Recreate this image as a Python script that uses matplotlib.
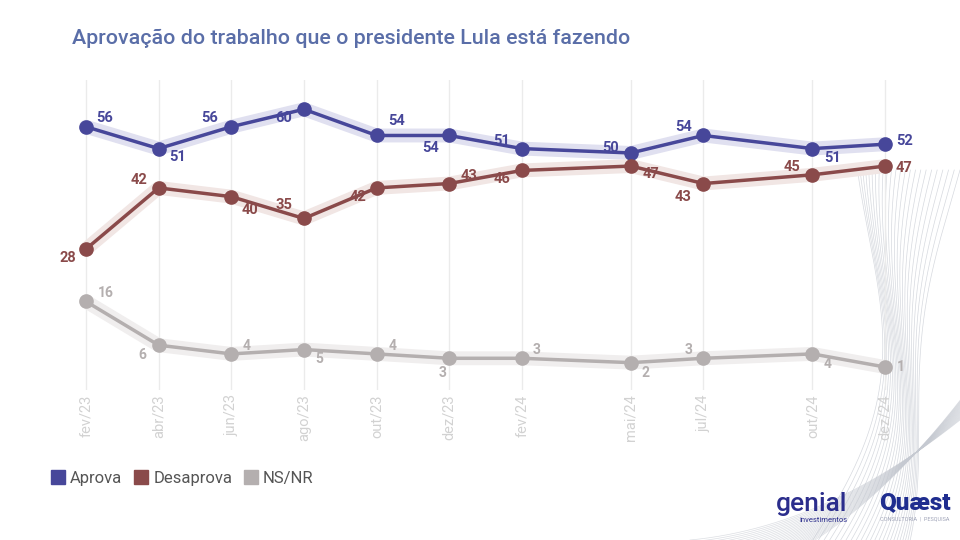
import numpy as np
import matplotlib
matplotlib.use("Agg")
import matplotlib.pyplot as plt
from matplotlib.patches import Patch

plt.rcParams['font.family'] = ['Roboto', 'DejaVu Sans']

# survey dates (month index from fev/23) and labels
months = [0, 2, 4, 6, 8, 10, 12, 15, 17, 20, 22]
labels = ['fev/23', 'abr/23', 'jun/23', 'ago/23', 'out/23', 'dez/23',
          'fev/24', 'mai/24', 'jul/24', 'out/24', 'dez/24']

aprova = [56, 51, 56, 60, 54, 54, 51, 50, 54, 51, 52]
desaprova = [28, 42, 40, 35, 42, 43, 46, 47, 43, 45, 47]
nsnr = [16, 6, 4, 5, 4, 3, 3, 2, 3, 4, 1]

# label offsets in pixels (dx, dy) for each point
off_aprova = [(19, 9), (19, -8), (-22, 9), (-20, -9), (20, 14), (-19, -13),
              (-20, 8), (-20, 5), (-20, 8), (20, -9), (19, 3)]
off_desaprova = [(-18, -9), (-20, 8), (19, -13), (-20, 13), (-19, -9), (20, 8),
                 (-20, -9), (20, -8), (-20, -13), (-20, 8), (19, -2)]
off_nsnr = [(20, 8), (-16, -10), (15, 8), (15, -9), (16, 8), (-7, -15),
            (15, 8), (15, -10), (-15, 8), (15, -10), (16, 0)]

c_aprova = '#47479a'
c_desaprova = '#8a4a4a'
c_nsnr = '#b4afaf'

fig = plt.figure(figsize=(9.6, 5.4), dpi=100)
fig.patch.set_facecolor('white')

# decorative waves bottom right
deco = fig.add_axes([0, 0, 1, 1], zorder=0)
deco.set_xlim(0, 960)
deco.set_ylim(540, 0)
deco.axis('off')
tt = np.linspace(0, 1, 200)
for k in range(24):
    sx = 960 - 25 * np.sin(tt * np.pi * 1.3 + k * 0.09) - k * 3.5 - 70 * tt ** 2
    sy = 170 + tt * 370
    deco.plot(sx, sy, color='#c5c9d1', lw=0.5, alpha=0.7)
    bx = 690 + tt * 270
    by = 540 - 25 * tt - 95 * tt ** 2 * (1 + k * 0.03) + k * 2
    deco.plot(bx, by, color='#c5c9d1', lw=0.5, alpha=0.6)

ax = fig.add_axes([50 / 960, 1 - 390 / 540, 870 / 960, 310 / 540], zorder=2)
ax.patch.set_alpha(0)
ax.set_xlim(-0.99, 22.96)
ax.set_ylim(-4.26, 66.7)

for m in months:
    ax.axvline(m, color='#ebebeb', lw=1, zorder=0)

series = [(aprova, c_aprova, '#e0e0f0', off_aprova, 'Aprova'),
          (desaprova, c_desaprova, '#f1e6e4', off_desaprova, 'Desaprova'),
          (nsnr, c_nsnr, '#f0eeee', off_nsnr, 'NS/NR')]

for vals, col, glow, offs, name in series:
    ax.plot(months, vals, color=glow, lw=10, solid_capstyle='round', zorder=1)
    ax.plot(months, vals, color=col, lw=2.5, marker='o', markersize=9.5,
            zorder=3)
    fs = 10 if name == 'NS/NR' else 10.5
    for m, v, (dx, dy) in zip(months, vals, offs):
        ax.annotate(str(v), (m, v), xytext=(dx, dy), textcoords='offset pixels',
                    ha='center', va='center', fontsize=fs, fontweight='bold',
                    color=col, zorder=4)

ax.set_xticks(months)
ax.set_xticklabels(labels, rotation=90, fontsize=10.5, color='#d2d2d2')
ax.tick_params(axis='x', length=0, pad=3)
ax.set_yticks([])
for s in ax.spines.values():
    s.set_visible(False)

fig.text(72 / 960, 1 - 38 / 540, 'Aprovação do trabalho que o presidente Lula está fazendo',
         fontsize=15.4, fontweight='medium', color='#5a6ea8', va='center', ha='left')

handles = [Patch(color=c_aprova, label='Aprova'),
           Patch(color=c_desaprova, label='Desaprova'),
           Patch(color=c_nsnr, label='NS/NR')]
fig.legend(handles=handles, loc='center left', bbox_to_anchor=(36 / 960, 1 - 478 / 540),
           ncol=3, frameon=False, fontsize=12, handlelength=0.85, handleheight=0.85,
           handletextpad=0.3, columnspacing=0.7, labelcolor='#555555')

# logos as text
fig.text(812 / 960, 1 - 504 / 540, 'genial', fontsize=19, fontweight='medium',
         color='#2b2d8c', ha='center', va='center')
fig.text(848 / 960, 1 - 520 / 540, 'investimentos', fontsize=5.5, color='#2b2d8c',
         ha='right', va='center')
fig.text(915 / 960, 1 - 503 / 540, 'Quæst', fontsize=17.5, fontweight='black',
         color='#1f2d8f', ha='center', va='center')
fig.text(915 / 960, 1 - 519 / 540, 'CONSULTORIA  |  PESQUISA', fontsize=4,
         color='#a0a4b8', ha='center', va='center')

fig.savefig('out.png', dpi=100, facecolor='white')
